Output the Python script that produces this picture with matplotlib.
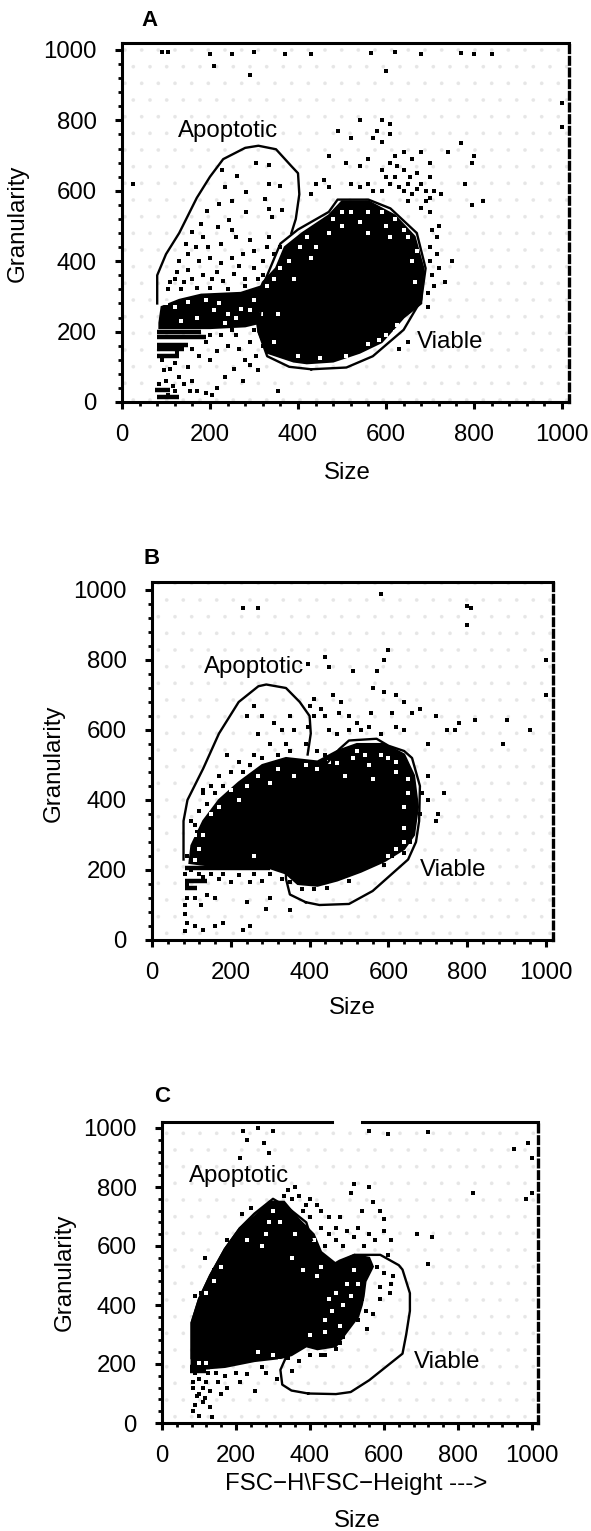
import matplotlib
matplotlib.use("Agg")
import matplotlib.pyplot as plt
from matplotlib.ticker import MultipleLocator

plt.rcParams['font.family'] = ['Liberation Sans', 'DejaVu Sans']
plt.rcParams['hatch.linewidth'] = 0.2

W, H = 591, 1531
ticks = [0, 200, 400, 600, 800, 1000]

# gates (size, granularity)
a_apop = [(80, 280), (80, 360), (100, 420), (130, 480), (170, 580), (200, 640), (230, 690), (280, 722), (310, 728),
          (350, 718), (385, 670), (400, 650), (403, 590), (395, 520), (385, 480)]
a_viab = [(430, 93), (510, 98), (570, 130), (640, 205), (680, 290), (690, 380), (670, 480), (610, 550), (560, 575),
          (490, 575), (470, 540), (400, 490), (360, 450), (320, 330), (310, 200), (330, 130), (380, 100), (430, 93)]
b_apop = [(80, 230), (80, 340), (90, 400), (130, 490), (170, 590), (220, 680), (270, 725), (290, 730), (340, 720),
          (375, 680), (400, 640), (403, 590), (395, 530)]
b_viab = [(390, 108), (425, 100), (500, 103), (560, 140), (620, 200), (650, 230), (670, 280), (678, 340), (680, 440),
          (660, 520), (640, 540), (600, 555), (570, 575), (500, 570), (475, 545), (440, 500), (340, 300), (340, 175),
          (350, 130), (390, 108)]
c_viab = [(395, 100), (470, 98), (510, 105), (560, 145), (600, 185), (650, 235), (660, 300), (670, 380), (670, 440),
          (650, 520), (640, 535), (590, 570), (520, 570), (480, 550), (440, 520), (320, 180), (325, 130), (350, 110),
          (395, 100)]
c_apop = [(80, 220), (80, 340), (100, 420), (130, 500), (170, 590), (210, 660), (250, 710), (300, 760), (340, 730),
          (390, 680), (405, 620)]

# solid black parts of the clouds
a_core = [(390, 115), (420, 110), (480, 115), (540, 140), (590, 170), (640, 240), (680, 280), (685, 380), (665, 470),
          (620, 530), (560, 570), (500, 570), (470, 530), (410, 480), (370, 440), (350, 380), (320, 340), (300, 280),
          (310, 200), (330, 140)]
a_blob = [(85, 225), (90, 270), (130, 290), (180, 305), (270, 310), (320, 330), (330, 230), (280, 215), (200, 210), (85, 210)]
b_core = [(95, 220), (100, 270), (130, 340), (170, 400), (220, 450), (280, 500), (340, 520), (420, 510), (470, 540),
          (520, 560), (590, 560), (640, 530), (665, 470), (675, 380), (665, 300), (640, 260), (590, 225), (530, 195),
          (470, 170), (420, 155), (370, 160), (340, 190), (300, 205), (200, 205)]
c_core = [(80, 185), (80, 340), (100, 420), (130, 500), (170, 590), (210, 660), (250, 700), (290, 750), (330, 750),
          (370, 690), (410, 640), (430, 580), (470, 540), (520, 570), (560, 560), (570, 530), (550, 480), (545, 430),
          (540, 400), (530, 360), (500, 310), (470, 260), (420, 250), (390, 260), (350, 230), (320, 220), (250, 210),
          (170, 190), (120, 185)]

# streaks at the low size edge: y, x start, x end
a_streaks = [(198, 80, 180), (185, 80, 190), (162, 80, 150), (150, 80, 140), (130, 80, 130), (15, 80, 130), (35, 75, 110)]
b_streaks = [(205, 85, 300), (170, 85, 140), (150, 85, 115)]
c_streaks = [(190, 75, 130), (175, 75, 120)]

# single events
a_dots = [(304, 678), (334, 673), (227, 659), (360, 613), (334, 620), (261, 642), (282, 597), (235, 611), (250, 572),
          (221, 562), (325, 578), (364, 545), (334, 547), (281, 540), (342, 526), (193, 543), (244, 517), (249, 488),
          (218, 497), (180, 507), (158, 483), (184, 470), (146, 450), (168, 440), (195, 440), (225, 450), (260, 470),
          (290, 460), (335, 470), (360, 440), (130, 400), (150, 420), (175, 400), (200, 410), (225, 395), (250, 410),
          (275, 420), (300, 430), (320, 400), (110, 340), (125, 370), (140, 340), (160, 350), (185, 360), (205, 350),
          (230, 345), (255, 365), (280, 350), (300, 380), (105, 320), (135, 320), (170, 325), (200, 325), (240, 320),
          (280, 330), (25, 620), (105, 20), (115, 45), (130, 70), (95, 90), (100, 60), (120, 110), (150, 100),
          (160, 60), (170, 30), (190, 25), (215, 40), (105, 130), (175, 130), (200, 120), (215, 145), (240, 160),
          (265, 150), (280, 120), (275, 60), (310, 90), (290, 170), (320, 160), (300, 205), (590, 800), (610, 790),
          (580, 770), (540, 800), (490, 770), (520, 750), (570, 750), (590, 740), (610, 760), (620, 700), (640, 710),
          (660, 690), (680, 710), (700, 680), (740, 710), (770, 735), (800, 700), (795, 680), (470, 700), (510, 680),
          (540, 670), (560, 690), (590, 660), (610, 680), (620, 640), (640, 660), (650, 620), (670, 650), (680, 620),
          (700, 640), (710, 600), (725, 590), (780, 620), (820, 570), (795, 560), (690, 570), (680, 550), (460, 630),
          (470, 610), (430, 590), (440, 620), (520, 620), (540, 610), (560, 620), (570, 600), (590, 600), (610, 620),
          (640, 600), (660, 590), (700, 540), (720, 500), (750, 400), (720, 380), (735, 340), (710, 330), (715, 420),
          (700, 400), (650, 170), (630, 150), (355, 30), (600, 940), (290, 930), (210, 955), (620, 995), (430, 990),
          (370, 990), (300, 995), (250, 990), (200, 990), (90, 995), (105, 993), (565, 992), (680, 990), (770, 992),
          (800, 990), (840, 990), (1000, 780), (1000, 850), (625, 670), (600, 640), (655, 640), (630, 610), (670, 605),
          (690, 600), (700, 580), (650, 570), (705, 490), (715, 470), (700, 440), (705, 360), (695, 310), (695, 270),
          (345, 420), (320, 360), (330, 440), (120, 350), (150, 375), (215, 370), (265, 385), (310, 350), (305, 130),
          (290, 105), (255, 95), (235, 70), (140, 50), (155, 30), (90, 120), (110, 95), (125, 140), (160, 150),
          (190, 170), (225, 190), (260, 190), (200, 190), (250, 205), (300, 240), (85, 50), (120, 30), (205, 20)]
a_white = [(420, 470), (440, 440), (470, 480), (500, 500), (520, 540), (540, 510), (590, 540), (560, 480), (600, 500),
           (650, 470), (660, 400), (650, 230), (640, 210), (620, 200), (360, 380), (380, 400), (390, 350), (350, 120),
           (450, 125), (120, 270), (170, 240), (220, 280), (240, 250), (260, 240), (290, 260), (510, 130), (560, 165),
           (405, 440), (430, 410), (480, 520), (500, 540), (560, 540), (620, 520), (640, 490), (610, 470), (670, 430),
           (665, 340), (600, 190), (585, 175), (625, 220), (150, 285), (190, 290), (210, 260), (235, 225), (270, 265),
           (300, 290), (315, 250), (135, 230), (100, 280), (330, 330), (345, 350), (355, 250), (345, 170), (400, 130)]
b_dots = [(395, 790), (440, 810), (450, 780), (510, 770), (570, 770), (590, 800), (600, 830), (560, 720), (590, 710),
          (620, 700), (640, 680), (660, 650), (680, 660), (720, 640), (750, 600), (770, 600), (780, 620), (820, 630),
          (900, 630), (960, 600), (890, 560), (1000, 800), (1000, 700), (460, 700), (480, 680), (500, 640), (520, 620),
          (430, 660), (410, 690), (400, 670), (450, 600), (470, 590), (500, 600), (530, 600), (550, 610), (580, 590),
          (620, 610), (640, 600), (700, 560), (700, 470), (740, 420), (720, 340), (725, 360), (700, 400), (350, 640),
          (330, 600), (310, 620), (270, 590), (240, 640), (260, 670), (280, 640), (360, 600), (340, 560), (300, 560),
          (260, 530), (220, 510), (190, 530), (170, 470), (200, 480), (150, 440), (130, 420), (120, 370), (100, 340),
          (115, 310), (90, 240), (85, 190), (90, 160), (110, 170), (130, 180), (170, 175), (200, 165), (250, 165),
          (280, 170), (90, 120), (85, 100), (85, 75), (90, 50), (85, 25), (110, 120), (125, 100), (140, 130), (160, 120),
          (110, 40), (130, 30), (160, 40), (180, 50), (230, 30), (250, 40), (290, 90), (240, 110), (350, 85), (300, 120),
          (800, 955), (810, 948), (580, 990), (230, 950), (270, 950), (800, 900), (130, 430), (320, 530), (280, 520),
          (350, 540), (390, 560), (420, 540), (440, 530), (230, 480), (250, 500), (180, 440), (160, 420), (140, 390),
          (110, 330), (105, 270), (100, 200), (120, 190), (150, 190), (180, 190), (220, 185), (260, 190), (300, 190),
          (330, 175), (350, 165), (380, 145), (410, 145), (445, 150), (500, 170), (590, 215), (610, 240), (640, 250),
          (655, 280), (680, 360), (685, 420), (395, 610), (410, 640), (440, 640), (475, 650), (555, 650), (610, 650)]
b_white = [(420, 490), (450, 510), (520, 540), (550, 500), (600, 520), (560, 460), (620, 480), (650, 420), (640, 320),
           (620, 260), (600, 240), (120, 260), (110, 300), (220, 400), (200, 430), (270, 470), (300, 450), (360, 470),
           (490, 470), (150, 360), (110, 230), (260, 240), (640, 380), (510, 520), (540, 530), (580, 530), (620, 510),
           (650, 460), (640, 280), (130, 300), (170, 380), (240, 440), (320, 490), (390, 500), (470, 505)]
c_dots = [(220, 990), (260, 1000), (300, 990), (230, 960), (275, 950), (290, 915), (210, 900), (560, 990), (610, 980),
          (720, 985), (990, 950), (950, 930), (1000, 900), (840, 780), (985, 760), (1000, 780), (360, 800), (340, 790),
          (370, 770), (400, 760), (420, 740), (380, 720), (450, 700), (480, 700), (510, 780), (520, 810), (560, 800),
          (570, 750), (540, 720), (590, 720), (600, 690), (500, 650), (520, 630), (560, 640), (600, 650), (620, 620),
          (690, 640), (730, 630), (720, 540), (610, 570), (580, 530), (600, 510), (625, 500), (620, 470), (615, 440),
          (590, 460), (590, 420), (570, 370), (555, 320), (470, 250), (440, 230), (400, 230), (370, 210), (340, 220),
          (350, 175), (310, 150), (280, 170), (270, 190), (230, 165), (200, 170), (210, 140), (175, 120), (150, 140),
          (130, 110), (110, 120), (100, 150), (85, 140), (95, 90), (85, 40), (100, 25), (135, 20), (130, 55), (90, 170),
          (125, 170), (160, 100), (250, 110), (110, 70), (105, 440), (90, 430), (115, 560), (140, 520), (175, 620),
          (215, 710), (240, 730), (400, 700), (430, 660), (450, 640), (470, 620), (490, 600), (440, 600), (390, 740),
          (350, 760), (330, 770), (430, 720), (470, 660), (545, 600), (530, 660), (575, 620), (100, 100), (120, 140),
          (145, 170), (170, 160), (90, 60), (115, 85), (85, 120), (540, 420), (550, 380), (530, 350), (510, 340),
          (490, 290), (460, 290), (430, 230), (480, 270)]
c_white = [(160, 530), (140, 480), (120, 440), (230, 620), (290, 680), (300, 720), (270, 600), (350, 560), (380, 520),
           (420, 500), (450, 420), (460, 380), (490, 400), (500, 470), (520, 520), (480, 330), (440, 310), (400, 300),
           (260, 240), (120, 205), (100, 205), (300, 230), (320, 210), (410, 620), (360, 640), (320, 680), (280, 640),
           (430, 530), (470, 440), (440, 350), (510, 430), (530, 470)]

panels = [
    dict(letter='A', left=122, right=569, bottom=402, top=43, sx=0.44, sy=0.352, apop=a_apop, viab=a_viab,
         solid=[a_core, a_blob], streaks=a_streaks, dots=a_dots, white=a_white, apop_xy=(228, 131), viab_xy=(450, 342),
         size_xy=(347, 473), gran_xy=(18, 223), letter_xy=(150, 21)),
    dict(letter='B', left=152, right=553, bottom=940, top=582, sx=0.394, sy=0.35, apop=b_apop, viab=b_viab,
         solid=[b_core], streaks=b_streaks, dots=b_dots, white=b_white, apop_xy=(254, 667), viab_xy=(453, 870),
         size_xy=(352, 1008), gran_xy=(54, 763), letter_xy=(152, 558)),
    dict(letter='C', left=162, right=538, bottom=1423, top=1122, sx=0.37, sy=0.295, apop=c_apop, viab=c_viab,
         solid=[c_core], streaks=c_streaks, dots=c_dots, white=c_white, apop_xy=(239, 1176), viab_xy=(447, 1362),
         size_xy=(357, 1521), gran_xy=(65, 1272), letter_xy=(162, 1097)),
]


def ftext(fig, xy, s, **kw):
    fig.text(xy[0] / W, 1 - xy[1] / H, s, ha='center', va='center', **kw)


fig = plt.figure(figsize=(W / 100, H / 100), dpi=100, facecolor='white')

for p in panels:
    ax = fig.add_axes([p['left'] / W, 1 - p['bottom'] / H, (p['right'] - p['left']) / W, (p['bottom'] - p['top']) / H])
    ax.set_xlim(0, (p['right'] - p['left']) / p['sx'])
    ax.set_ylim(0, (p['bottom'] - p['top']) / p['sy'])
    # faint stipple of the original print
    ax.patch.set_facecolor('white')
    ax.patch.set_edgecolor('#e6e6e6')
    ax.patch.set_hatch('.')

    for poly in p['solid']:
        ax.fill([q[0] for q in poly], [q[1] for q in poly], color='black', lw=1.5, zorder=2)
    for y, x0, x1 in p['streaks']:
        ax.hlines(y, x0, x1, color='black', lw=3.2, zorder=2)
    ax.scatter([q[0] for q in p['dots']], [q[1] for q in p['dots']], s=5, marker='s', color='black', lw=0, zorder=3)
    ax.scatter([q[0] for q in p['white']], [q[1] for q in p['white']], s=6, marker='s', color='white', lw=0, zorder=3)
    for gate in (p['apop'], p['viab']):
        ax.plot([q[0] for q in gate], [q[1] for q in gate], color='black', lw=1.7, zorder=4)

    ax.set_xticks(ticks)
    ax.set_yticks(ticks)
    ax.xaxis.set_minor_locator(MultipleLocator(40))
    ax.yaxis.set_minor_locator(MultipleLocator(40))
    ax.tick_params(axis='x', which='major', length=5, width=2.2, labelsize=17.3, pad=11)
    ax.tick_params(axis='y', which='major', length=5, width=2.2, labelsize=17.3, pad=13)
    ax.tick_params(which='minor', length=3, width=2)
    for side in ('left', 'bottom', 'top'):
        ax.spines[side].set_linewidth(2.2)
    ax.spines['right'].set_linewidth(2.4)
    ax.spines['right'].set_linestyle((0, (2, 1.5)))

    if p['letter'] == 'C':
        # the top border is broken in this panel
        ax.spines['top'].set_visible(False)
        top = ax.get_ylim()[1]
        ax.plot([0, 460], [top, top], color='black', lw=2.2, clip_on=False)
        ax.plot([540, ax.get_xlim()[1]], [top, top], color='black', lw=2.2, clip_on=False)

    ftext(fig, p['apop_xy'], 'Apoptotic', fontsize=17.3)
    ftext(fig, p['viab_xy'], 'Viable', fontsize=17.3)
    ftext(fig, p['size_xy'], 'Size', fontsize=17.3)
    ftext(fig, p['gran_xy'], 'Granularity', fontsize=17.3, rotation=90)
    ftext(fig, p['letter_xy'], p['letter'], fontsize=16, fontweight='bold')

ftext(fig, (356, 1484), 'FSC\u2212H\\FSC\u2212Height --->', fontsize=17.3)

fig.savefig('out.png', dpi=100)
